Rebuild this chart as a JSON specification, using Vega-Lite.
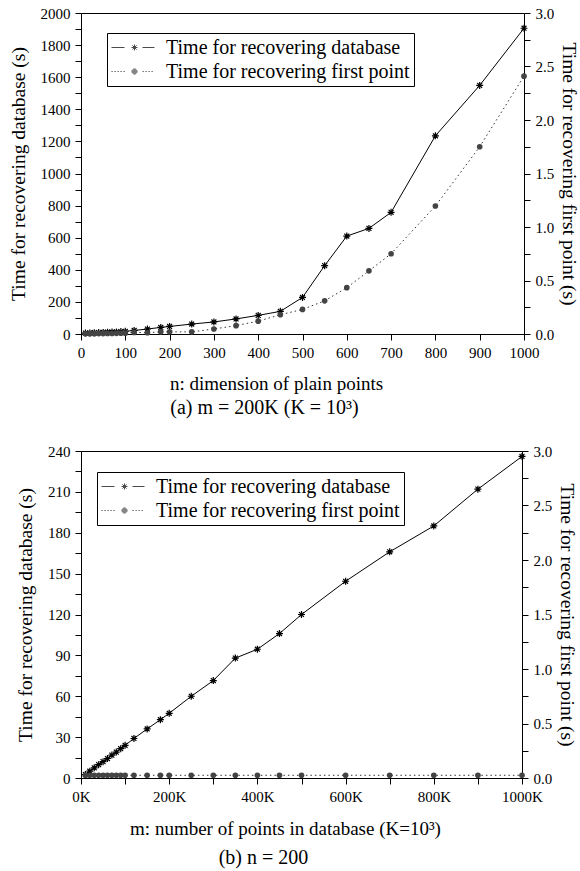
{
  "$schema": "https://vega.github.io/schema/vega-lite/v6.json",
  "padding": {"left": 7, "top": 5, "right": 0, "bottom": 0},
  "columns": 1,
  "align": "none",
  "spacing": 24,
  "resolve": {"scale": {"shape": "independent"}, "legend": {"shape": "independent"}},
  "config": {
    "font": "Liberation Serif",
    "view": {"stroke": "black", "strokeWidth": 1},
    "axis": {
      "grid": false, "domainColor": "black", "domainWidth": 1, "tickColor": "black", "tickSize": 6,
      "labelColor": "black", "titleColor": "black", "labelFont": "Liberation Serif", "titleFont": "Liberation Serif",
      "labelFontSize": 15, "titleFontSize": 19.5, "titleFontWeight": "normal", "labelPadding": 5,
      "labelOverlap": false, "labelFlush": false
    },
    "legend": {"labelFont": "Liberation Serif", "labelColor": "black"},
    "title": {"font": "Liberation Serif", "fontSize": 20, "fontWeight": "normal", "color": "black"}
  },
  "concat": [
    {
      "width": 443, "height": 321,
      "title": {"text": "(a) m = 200K (K = 10³)", "orient": "bottom", "dx": -38, "offset": 5},
      "data": {"values": [
        {"n": 10, "db": 6, "fp": 0.002}, {"n": 20, "db": 7, "fp": 0.003}, {"n": 30, "db": 8, "fp": 0.003},
        {"n": 40, "db": 9, "fp": 0.004}, {"n": 50, "db": 10, "fp": 0.004}, {"n": 60, "db": 11, "fp": 0.005},
        {"n": 70, "db": 12, "fp": 0.005}, {"n": 80, "db": 13, "fp": 0.006}, {"n": 90, "db": 15, "fp": 0.007},
        {"n": 100, "db": 17, "fp": 0.008}, {"n": 120, "db": 22, "fp": 0.015}, {"n": 150, "db": 31, "fp": 0.012},
        {"n": 180, "db": 41, "fp": 0.02}, {"n": 200, "db": 47, "fp": 0.02}, {"n": 250, "db": 62, "fp": 0.02},
        {"n": 300, "db": 75, "fp": 0.047}, {"n": 350, "db": 94, "fp": 0.078}, {"n": 400, "db": 116, "fp": 0.12},
        {"n": 450, "db": 141, "fp": 0.18}, {"n": 500, "db": 228, "fp": 0.23}, {"n": 550, "db": 426, "fp": 0.31},
        {"n": 600, "db": 610, "fp": 0.433}, {"n": 650, "db": 658, "fp": 0.59}, {"n": 700, "db": 758, "fp": 0.75},
        {"n": 800, "db": 1235, "fp": 1.196}, {"n": 900, "db": 1549, "fp": 1.75}, {"n": 1000, "db": 1905, "fp": 2.41}
      ]},
      "layer": [
        {
          "mark": {"type": "line", "color": "black", "strokeWidth": 1,
            "point": {"shape": "M-1,0L1,0M0,-1L0,1M-0.7,-0.7L0.7,0.7M-0.7,0.7L0.7,-0.7", "filled": false, "size": 49, "color": "black", "strokeWidth": 1.2}},
          "encoding": {
            "x": {"field": "n", "type": "quantitative", "scale": {"domain": [0, 1000], "nice": false},
              "axis": {"title": "n: dimension of plain points", "titleFontSize": 19, "titleX": 195, "titlePadding": 14,
                "values": [0,50,100,150,200,250,300,350,400,450,500,550,600,650,700,750,800,850,900,950,1000],
                "labelExpr": "datum.value % 100 === 0 ? datum.value : ''"}},
            "y": {"field": "db", "type": "quantitative", "scale": {"domain": [0, 2000], "nice": false},
              "axis": {"orient": "left", "title": "Time for recovering database (s)", "titlePadding": 12,
                "values": [0,100,200,300,400,500,600,700,800,900,1000,1100,1200,1300,1400,1500,1600,1700,1800,1900,2000],
                "labelExpr": "datum.value % 200 === 0 ? datum.value : ''"}}
          }
        },
        {
          "mark": {"type": "line", "color": "#333", "strokeWidth": 1, "strokeDash": [1.5, 3],
            "point": {"shape": "circle", "filled": true, "size": 32, "color": "#444"}},
          "encoding": {
            "x": {"field": "n", "type": "quantitative"},
            "y": {"field": "fp", "type": "quantitative", "scale": {"domain": [0, 3], "nice": false},
              "axis": {"orient": "right", "title": "Time for recovering first point (s)", "titlePadding": 5,
                "values": [0,0.25,0.5,0.75,1,1.25,1.5,1.75,2,2.25,2.5,2.75,3],
                "labelExpr": "datum.value % 0.5 === 0 ? format(datum.value, '.1f') : ''"}}
          }
        },
        {
          "data": {"values": []},
          "mark": {"type": "point", "size": 400, "color": "black"},
          "encoding": {
            "shape": {"field": "s", "type": "nominal",
              "scale": {"domain": ["Time for recovering database", "Time for recovering first point"],
                "range": ["M-1,0L0.3,0M2.1,0L3.3,0M1,0L1.6,0M1.3,-0.3L1.3,0.3M1.09,-0.21L1.51,0.21M1.09,0.21L1.51,-0.21",
                          "M-1,0L-0.88,0M-0.7,0L-0.58,0M-0.4,0L-0.28,0M-0.1,0L0.02,0M0.2,0L0.32,0M1.55,0A0.25,0.25,0,1,1,1.05,0A0.25,0.25,0,1,1,1.55,0M1.45,0A0.15,0.15,0,1,1,1.15,0A0.15,0.15,0,1,1,1.45,0M1.35,0A0.05,0.05,0,1,1,1.25,0A0.05,0.05,0,1,1,1.35,0M2.1,0L2.22,0M2.4,0L2.52,0M2.7,0L2.82,0M3,0L3.12,0"]},
              "legend": {"title": null, "orient": "none", "legendX": 26, "legendY": 20, "symbolSize": 400,
                "symbolStrokeWidth": 1,
                "labelOffset": 34, "labelFontSize": 20, "labelLimit": 500, "padding": 4, "rowPadding": 3,
                "strokeColor": "black"}}
          }
        }
      ],
      "resolve": {"scale": {"y": "independent"}}
    },
    {
      "width": 441, "height": 327,
      "title": {"text": "(b) n = 200", "orient": "bottom", "dx": -38, "offset": 10},
      "data": {"values": [
        {"m": 10, "db": 2.5, "fp": 0.025}, {"m": 20, "db": 5, "fp": 0.025}, {"m": 30, "db": 7.5, "fp": 0.025},
        {"m": 40, "db": 9.8, "fp": 0.025}, {"m": 50, "db": 12, "fp": 0.025}, {"m": 60, "db": 14.3, "fp": 0.025},
        {"m": 70, "db": 16.8, "fp": 0.025}, {"m": 80, "db": 19, "fp": 0.025}, {"m": 90, "db": 21.5, "fp": 0.025},
        {"m": 100, "db": 24, "fp": 0.025}, {"m": 120, "db": 29, "fp": 0.025}, {"m": 150, "db": 36, "fp": 0.025},
        {"m": 180, "db": 42.8, "fp": 0.025}, {"m": 200, "db": 47.5, "fp": 0.025}, {"m": 250, "db": 60, "fp": 0.025},
        {"m": 300, "db": 71.5, "fp": 0.025}, {"m": 350, "db": 88, "fp": 0.025}, {"m": 400, "db": 94.5, "fp": 0.025},
        {"m": 450, "db": 106, "fp": 0.025}, {"m": 500, "db": 120, "fp": 0.025}, {"m": 600, "db": 144.4, "fp": 0.025},
        {"m": 700, "db": 166, "fp": 0.025}, {"m": 800, "db": 185, "fp": 0.025}, {"m": 900, "db": 212, "fp": 0.025},
        {"m": 1000, "db": 236, "fp": 0.025}
      ]},
      "layer": [
        {
          "mark": {"type": "line", "color": "black", "strokeWidth": 1,
            "point": {"shape": "M-1,0L1,0M0,-1L0,1M-0.7,-0.7L0.7,0.7M-0.7,0.7L0.7,-0.7", "filled": false, "size": 49, "color": "black", "strokeWidth": 1.2}},
          "encoding": {
            "x": {"field": "m", "type": "quantitative", "scale": {"domain": [0, 1000], "nice": false},
              "axis": {"title": "m: number of points in database (K=10³)", "titleFontSize": 19, "titleX": 204, "titlePadding": 15,
                "values": [0,100,200,300,400,500,600,700,800,900,1000],
                "labelExpr": "datum.value % 200 === 0 ? datum.value + 'K' : ''"}},
            "y": {"field": "db", "type": "quantitative", "scale": {"domain": [0, 240], "nice": false},
              "axis": {"orient": "left", "title": "Time for recovering database (s)", "titlePadding": 12,
                "values": [0,15,30,45,60,75,90,105,120,135,150,165,180,195,210,225,240],
                "labelExpr": "datum.value % 30 === 0 ? datum.value : ''"}}
          }
        },
        {
          "mark": {"type": "line", "color": "#333", "strokeWidth": 1, "strokeDash": [1.5, 3],
            "point": {"shape": "circle", "filled": true, "size": 32, "color": "#444"}},
          "encoding": {
            "x": {"field": "m", "type": "quantitative"},
            "y": {"field": "fp", "type": "quantitative", "scale": {"domain": [0, 3], "nice": false},
              "axis": {"orient": "right", "title": "Time for recovering first point (s)", "titlePadding": 5,
                "values": [0,0.25,0.5,0.75,1,1.25,1.5,1.75,2,2.25,2.5,2.75,3],
                "labelExpr": "datum.value % 0.5 === 0 ? format(datum.value, '.1f') : ''"}}
          }
        },
        {
          "data": {"values": []},
          "mark": {"type": "point", "size": 400, "color": "black"},
          "encoding": {
            "shape": {"field": "s", "type": "nominal",
              "scale": {"domain": ["Time for recovering database", "Time for recovering first point"],
                "range": ["M-1,0L0.3,0M2.1,0L3.3,0M1,0L1.6,0M1.3,-0.3L1.3,0.3M1.09,-0.21L1.51,0.21M1.09,0.21L1.51,-0.21",
                          "M-1,0L-0.88,0M-0.7,0L-0.58,0M-0.4,0L-0.28,0M-0.1,0L0.02,0M0.2,0L0.32,0M1.55,0A0.25,0.25,0,1,1,1.05,0A0.25,0.25,0,1,1,1.55,0M1.45,0A0.15,0.15,0,1,1,1.15,0A0.15,0.15,0,1,1,1.45,0M1.35,0A0.05,0.05,0,1,1,1.25,0A0.05,0.05,0,1,1,1.35,0M2.1,0L2.22,0M2.4,0L2.52,0M2.7,0L2.82,0M3,0L3.12,0"]},
              "legend": {"title": null, "orient": "none", "legendX": 16, "legendY": 21, "symbolSize": 400,
                "symbolStrokeWidth": 1,
                "labelOffset": 34, "labelFontSize": 20, "labelLimit": 500, "padding": 4, "rowPadding": 3,
                "strokeColor": "black"}}
          }
        }
      ],
      "resolve": {"scale": {"y": "independent"}}
    }
  ]
}
